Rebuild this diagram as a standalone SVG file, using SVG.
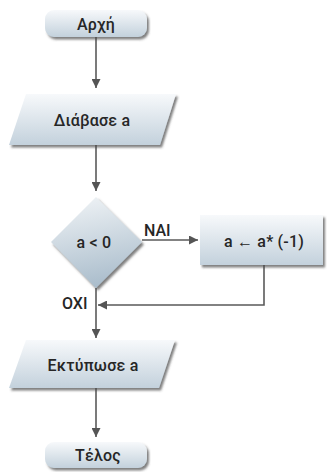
<svg xmlns="http://www.w3.org/2000/svg" width="331" height="472" viewBox="0 0 331 472">
  <defs>
    <linearGradient id="fillV" x1="0" y1="0" x2="0" y2="1">
      <stop offset="0" stop-color="#f7f9fb"/>
      <stop offset="1" stop-color="#c3d1dc"/>
    </linearGradient>
    <linearGradient id="fillD" x1="0.3" y1="0" x2="0.5" y2="1">
      <stop offset="0" stop-color="#eef2f5"/>
      <stop offset="1" stop-color="#a9bccb"/>
    </linearGradient>
    <filter id="shadow" x="-10%" y="-10%" width="130%" height="140%">
      <feDropShadow dx="2" dy="2.5" stdDeviation="1.2" flood-color="#4a4a4a" flood-opacity="0.7"/>
    </filter>
    <marker id="arrow" viewBox="0 0 10 10" refX="10" refY="5" markerWidth="9" markerHeight="9" markerUnits="userSpaceOnUse" orient="auto">
      <path d="M0,0 L10,5 L0,10 z" fill="#555"/>
    </marker>
  </defs>
  <style>
    .shape { filter: url(#shadow); }
    .label { font-family: Roboto, "Liberation Sans", Arial, sans-serif; font-size: 16px; font-weight: 500; fill: #262626; text-anchor: middle; dominant-baseline: central; letter-spacing: 0.2px; }
    .edge { fill: none; stroke: #5a5a5a; stroke-width: 1.6; }
    .edge-label { font-family: Roboto, "Liberation Sans", Arial, sans-serif; font-size: 16px; font-weight: 500; fill: #262626; }
  </style>

  <g id="connectors">
    <path class="edge" d="M96,37 V88" marker-end="url(#arrow)"/>
    <path class="edge" d="M96,145 V191" marker-end="url(#arrow)"/>
    <path class="edge" d="M142,240 H198" marker-end="url(#arrow)"/>
    <path class="edge" d="M264,265 V305 H98" marker-end="url(#arrow)"/>
    <path class="edge" d="M96,288 V338" marker-end="url(#arrow)"/>
    <path class="edge" d="M96,388 V437" marker-end="url(#arrow)"/>
    <text class="edge-label" x="144" y="236">ΝΑΙ</text>
    <text class="edge-label" x="62" y="309">ΟΧΙ</text>
  </g>

  <g id="start">
    <rect class="shape" x="45" y="10" width="102" height="27" rx="9" fill="url(#fillV)"/>
    <text class="label" x="96" y="24">Αρχή</text>
  </g>

  <g id="read">
    <polygon class="shape" points="26,94 176,94 160,145 9,145" fill="url(#fillV)"/>
    <text class="label" x="92" y="120">Διάβασε a</text>
  </g>

  <g id="decision">
    <polygon class="shape" points="96,197 142,242 96,288 51,242" fill="url(#fillD)"/>
    <text class="label" x="94" y="242">a &lt; 0</text>
  </g>

  <g id="negate">
    <rect class="shape" x="200" y="215" width="123" height="50" fill="url(#fillV)"/>
    <text class="label" x="264" y="241">a ← a* (-1)</text>
  </g>

  <g id="print">
    <polygon class="shape" points="26,340 175,340 159,388 9,388" fill="url(#fillV)"/>
    <text class="label" x="93" y="365">Εκτύπωσε a</text>
  </g>

  <g id="end">
    <rect class="shape" x="45" y="442" width="102" height="26" rx="9" fill="url(#fillV)"/>
    <text class="label" x="98" y="455">Τέλος</text>
  </g>
</svg>
